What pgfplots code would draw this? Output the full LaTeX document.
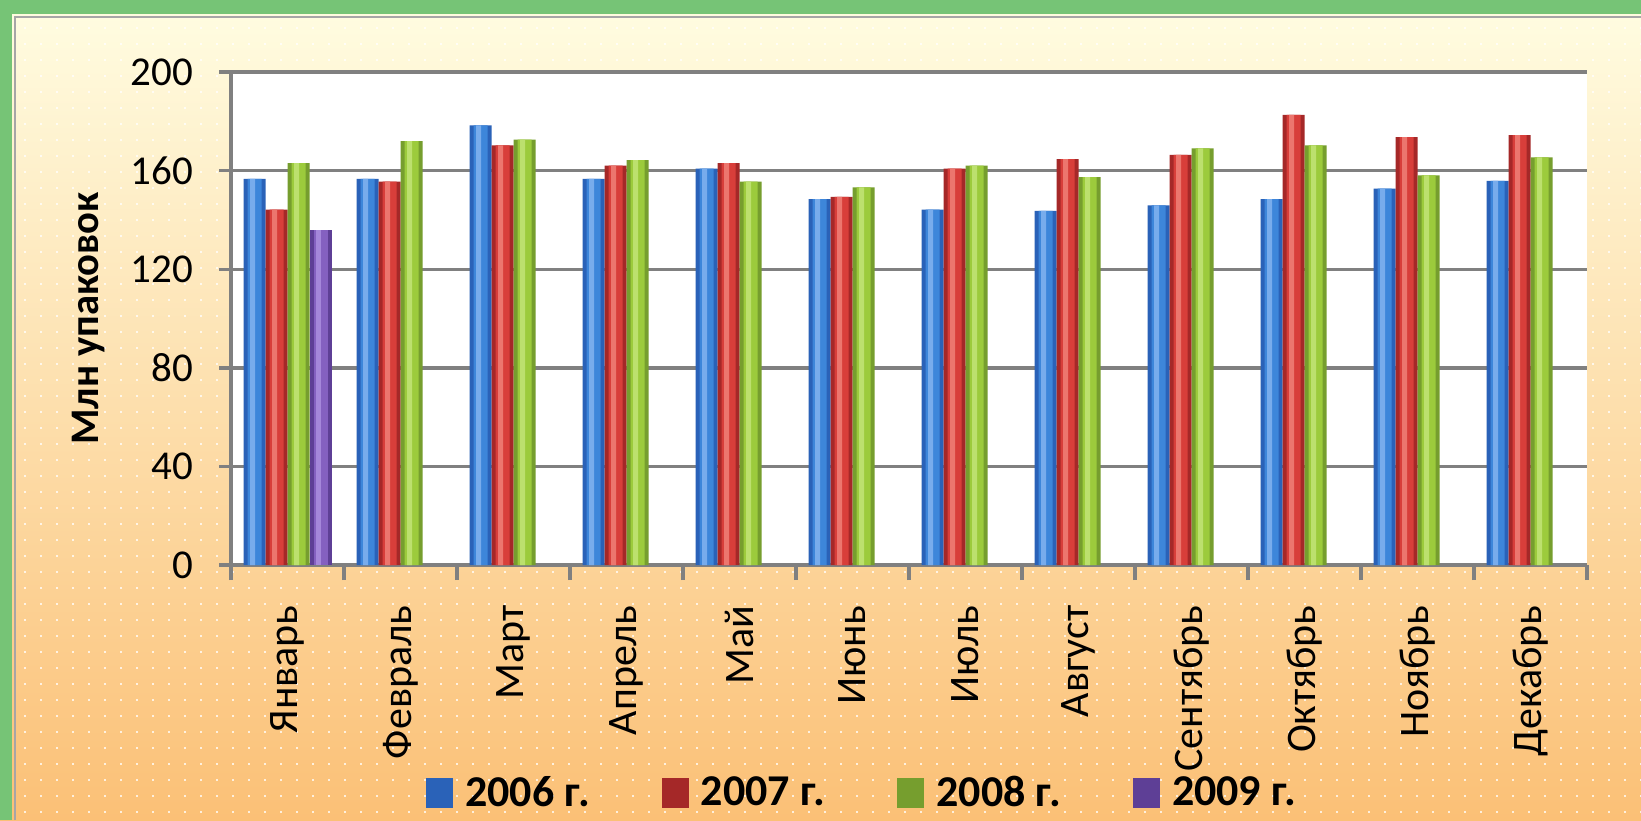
\documentclass[border=0pt]{standalone}
\usepackage{pgfplots}
\pgfplotsset{compat=1.18}
\usepackage{fontspec}
\setmainfont{Carlito}
\definecolor{bgtop}{RGB}{255,253,226}
\definecolor{bgmid}{RGB}{254,241,192}
\definecolor{bgbot}{RGB}{251,192,118}
\definecolor{frgreen}{RGB}{118,196,118}
\definecolor{gridgray}{RGB}{128,128,128}
\definecolor{bedge}{RGB}{42,98,184}
\definecolor{bmid}{RGB}{61,134,218}
\definecolor{blight}{RGB}{120,172,236}
\definecolor{redge}{RGB}{165,40,40}
\definecolor{rmid}{RGB}{216,62,58}
\definecolor{rlight}{RGB}{236,118,110}
\definecolor{gedge}{RGB}{118,158,46}
\definecolor{gmid}{RGB}{156,203,60}
\definecolor{glight}{RGB}{188,224,110}
\definecolor{pedge}{RGB}{94,63,150}
\definecolor{pmid}{RGB}{132,96,192}
\definecolor{plight}{RGB}{165,135,218}
\pgfplotstableread{
x y06 y07 y08
0 156.6 144.2 163.0
1 156.6 155.5 172.0
2 178.3 170.2 172.6
3 156.6 162.0 164.2
4 160.8 163.0 155.5
5 148.4 149.3 153.2
6 144.2 160.8 162.0
7 143.7 164.7 157.4
8 145.9 166.4 169.0
9 148.4 182.6 170.2
10 152.7 173.6 158.1
11 155.8 174.4 165.4
}\datatab
\pgfplotstableread{
x y09
0 136.0
}\datanine
\begin{document}
\begin{tikzpicture}
\useasboundingbox (0pt,0pt) rectangle (820.5pt,410pt);
\shade[top color=bgtop, middle color=bgmid, bottom color=bgbot] (0pt,0pt) rectangle (820.5pt,410pt);
\foreach \yy in {4,12,...,400} {
  \draw[white, opacity=0.75, line width=0.9pt, dash pattern=on 0.9pt off 7.1pt] (4pt,\yy pt) -- (820.5pt,\yy pt);
}
\fill[frgreen] (0pt,0pt) rectangle (6pt,410pt);
\fill[frgreen] (0pt,403pt) rectangle (820.5pt,410pt);
\draw[gridgray!70, line width=0.8pt] (7.5pt,0pt) -- (7.5pt,401.5pt) -- (820.5pt,401.5pt);
\begin{axis}[
  scale only axis,
  width=678pt, height=246.5pt,
  at={(115.5pt,127.5pt)}, anchor=south west,
  xmin=-0.5, xmax=11.5, ymin=0, ymax=200,
  ytick={0,40,...,200},
  xtick={0,...,11},
  xticklabels={Январь,Февраль,Март,Апрель,Май,Июнь,Июль,Август,Сентябрь,Октябрь,Ноябрь,Декабрь},
  minor xtick={-0.5,0.5,...,11.5},
  axis lines=left,
  axis line style={gridgray, line width=1.7pt, -},
  axis background/.style={fill=white},
  ymajorgrids,
  grid style={gridgray, line width=1.7pt},
  tick align=outside,
  major tick length=6pt,
  minor tick length=7.5pt,
  major x tick style={draw=none},
  minor x tick style={gridgray, line width=1.7pt},
  major y tick style={gridgray, line width=1.7pt},
  yticklabel style={font=\fontsize{20.5}{22}\selectfont},
  xticklabel style={font=\fontsize{21}{22}\selectfont, rotate=90, anchor=east, inner sep=0pt},
  /pgf/number format/assume math mode=true,
  yticklabel shift=9.5pt,
  xticklabel shift=14pt,
  ylabel={Млн упаковок},
  every axis y label/.style={at={(axis description cs:-0.1047,0.5)}, rotate=90, anchor=center, font=\bfseries\fontsize{20.3}{22}\selectfont},
  ybar=0pt,
  legend columns=4,
  legend style={at={(0.4664,0)}, anchor=center, yshift=-114pt, draw=none, fill=none,
    font=\bfseries\fontsize{22}{23}\selectfont,
    /tikz/every odd column/.append style={column sep=4pt},
    /tikz/every even column/.append style={column sep=34pt}},
  legend image code/.code={\fill[#1] (0pt,-7.5pt) rectangle (13.5pt,7.5pt);},
]
% main bars
\addplot[draw=none, fill=bedge, bar width=11pt, bar shift=-16.5pt] table[x=x,y=y06] {\datatab};
\addplot[draw=none, fill=redge, bar width=11pt, bar shift=-5.5pt] table[x=x,y=y07] {\datatab};
\addplot[draw=none, fill=gedge, bar width=11pt, bar shift=5.5pt] table[x=x,y=y08] {\datatab};
\addplot[draw=none, fill=pedge, bar width=11pt, bar shift=16.5pt] table[x=x,y=y09] {\datanine};
% middle band
\addplot[forget plot, draw=none, fill=bmid, bar width=7pt, bar shift=-16.5pt] table[x=x,y=y06] {\datatab};
\addplot[forget plot, draw=none, fill=rmid, bar width=7pt, bar shift=-5.5pt] table[x=x,y=y07] {\datatab};
\addplot[forget plot, draw=none, fill=gmid, bar width=7pt, bar shift=5.5pt] table[x=x,y=y08] {\datatab};
\addplot[forget plot, draw=none, fill=pmid, bar width=7pt, bar shift=16.5pt] table[x=x,y=y09] {\datanine};
% highlight
\addplot[forget plot, draw=none, fill=blight, bar width=2.5pt, bar shift=-17.5pt] table[x=x,y=y06] {\datatab};
\addplot[forget plot, draw=none, fill=rlight, bar width=2.5pt, bar shift=-6.5pt] table[x=x,y=y07] {\datatab};
\addplot[forget plot, draw=none, fill=glight, bar width=2.5pt, bar shift=4.5pt] table[x=x,y=y08] {\datatab};
\addplot[forget plot, draw=none, fill=plight, bar width=2.5pt, bar shift=15.5pt] table[x=x,y=y09] {\datanine};
\legend{2006 г.,2007 г.,2008 г.,2009 г.}
\end{axis}
\end{tikzpicture}
\end{document}
